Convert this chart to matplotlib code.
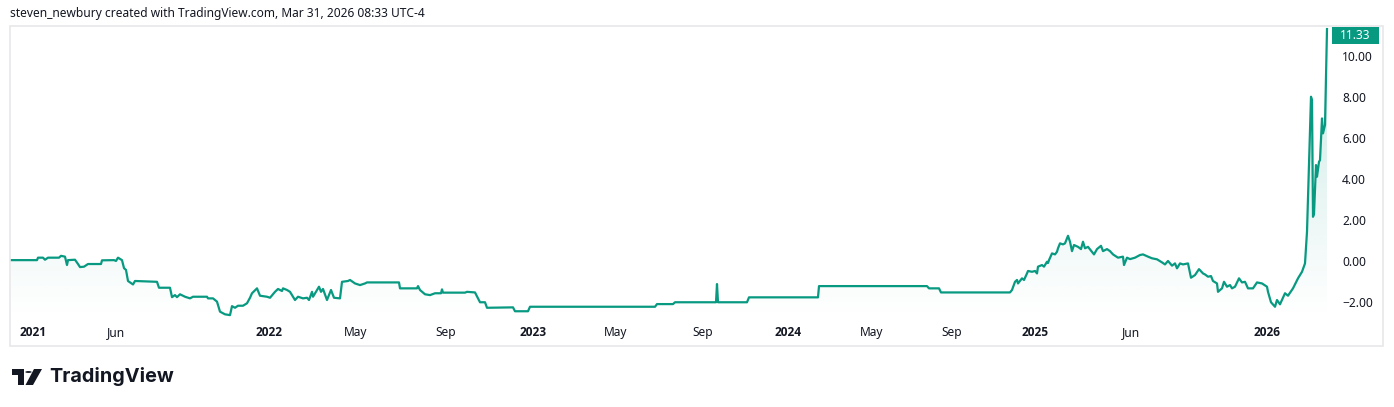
"""TradingView-style area chart, rebuilt with matplotlib."""

import matplotlib

matplotlib.use("Agg")
import matplotlib.pyplot as plt
import numpy as np
from matplotlib.patches import Circle, Polygon, Rectangle

plt.rcParams["font.family"] = ["Noto Sans", "DejaVu Sans"]

# bar index (chart's own time scale) and close values
bars = [
    1, 27, 28, 33, 35, 38, 49, 51, 55, 57, 58, 65, 68, 70, 74, 78, 91, 92, 104, 106,
    108, 112, 114, 116, 118, 121, 123, 125, 147, 149, 160, 162, 165, 167, 170, 175,
    180, 183, 197, 198, 203, 207, 210, 215, 220, 222, 225, 228, 233, 237, 240,
    242, 247, 250, 257, 260, 265, 268, 272, 273, 277, 280, 285, 288, 293, 297, 299,
    302, 303, 307, 309, 311, 313, 317, 321, 324, 330, 332, 338, 340, 345, 350, 355,
    357, 389, 390, 407, 408, 410, 415, 420, 425, 431, 432, 433, 455, 457, 465, 470,
    475, 477, 503, 505, 518, 520, 645, 647, 663, 665, 706, 707, 708, 737, 739, 808,
    809, 917, 919, 929, 931, 1000, 1002, 1005, 1007, 1008, 1012, 1014, 1017, 1018,
    1022, 1025, 1027, 1028, 1032, 1034, 1037, 1038, 1039, 1042, 1045, 1047, 1048,
    1050, 1053, 1055, 1058, 1060, 1062, 1064, 1068, 1071, 1073, 1075, 1078, 1084,
    1087, 1091, 1093, 1097, 1100, 1103, 1108, 1113, 1114, 1117, 1120, 1125, 1130,
    1133, 1138, 1142, 1147, 1152, 1155, 1158, 1162, 1165, 1167, 1170, 1173, 1178,
    1181, 1185, 1189, 1193, 1195, 1198, 1201, 1203, 1207, 1208, 1212, 1214, 1217,
    1220, 1222, 1225, 1229, 1232, 1235, 1238, 1243, 1247, 1252, 1257, 1258, 1261,
    1265, 1267, 1270, 1275, 1278, 1283, 1288, 1292, 1295, 1297, 1298, 1301, 1302,
    1303, 1304, 1306, 1307, 1309, 1310, 1312, 1313, 1315, 1317,
]
closes = [
    0.03, 0.03, 0.15, 0.15, 0.05, 0.15, 0.15, 0.24, 0.20, -0.21, 0.03, 0.05, -0.16,
    -0.31, -0.29, -0.16, -0.16, 0.02, 0.03, -0.01, 0.15, 0.03, -0.36, -0.45, -0.99,
    -1.09, -1.16, -0.99, -1.03, -1.32, -1.32, -1.78, -1.68, -1.78, -1.64, -1.76,
    -1.84, -1.76, -1.76, -1.84, -1.84, -2.00, -2.49, -2.62, -2.66, -2.22, -2.30,
    -2.20, -2.20, -2.08, -1.81,
    -1.59, -1.35, -1.71, -1.76, -1.81, -1.52, -1.38, -1.48, -1.35, -1.43, -1.52,
    -1.92, -1.76, -1.84, -1.81, -1.92, -1.52, -1.76, -1.43, -1.27, -1.52, -1.38,
    -1.92, -1.43, -1.81, -1.84, -1.03, -0.99, -0.94, -1.11, -1.19, -1.11, -1.06,
    -1.06, -1.35, -1.35, -1.24, -1.43, -1.64, -1.68, -1.59, -1.59, -1.40, -1.56,
    -1.56, -1.52, -1.55, -2.03, -2.03, -2.30, -2.28, -2.47, -2.47, -2.25, -2.25,
    -2.12, -2.12, -2.03, -2.03, -1.14, -2.03, -2.03, -1.79, -1.79, -1.24, -1.24,
    -1.35, -1.35, -1.55, -1.55, -1.43, -1.03, -0.94, -1.11, -0.86, -0.94, -0.62,
    -0.50, -0.54, -0.50, -0.62, -0.29, -0.21, -0.29, -0.05, -0.11, 0.03, 0.36, 0.31,
    0.44, 0.61, 0.85, 0.80, 0.85, 1.22, 0.93, 0.47, 0.77, 0.68, 0.57, 0.93, 0.61,
    0.68, 0.31, 0.57, 0.73, 0.47, 0.57, 0.47, 0.31, 0.15, 0.20, -0.21, 0.15, 0.08,
    0.15, 0.28, 0.31, 0.20, 0.12, 0.07, -0.08, -0.18, -0.01, -0.24, -0.13, -0.37,
    -0.13, -0.18, -0.13, -0.83, -0.70, -0.41, -0.62, -0.67, -0.78, -0.75, -0.99,
    -1.11, -1.52, -1.35, -1.03, -1.27, -1.19, -1.35, -1.27, -0.86, -1.06, -1.03,
    -1.35, -1.35, -1.06, -1.11, -1.27, -1.52, -2.03, -2.25, -1.92, -2.13, -1.59,
    -1.71, -1.35, -0.86, -0.54, -0.13, 1.42, 3.05, 8.02, 7.86, 2.15, 2.28, 4.68,
    4.11, 4.84, 4.92, 6.96, 6.23, 6.64, 11.33,
]

time_tick_bars = [23, 106, 259.5, 346, 435.5, 523, 606, 693, 778, 862, 942, 1025, 1121, 1257.5]
time_tick_labels = ["2021", "Jun", "2022", "May", "Sep", "2023", "May", "Sep",
                    "2024", "May", "Sep", "2025", "Jun", "2026"]
price_ticks = [-2, 0, 2, 4, 6, 8, 10]
last_price = "11.33"

W, H = 1394, 407
TEAL = "#089981"
INK = "#131722"


def fx(px):
    return px / W


def fy(py):
    return 1 - py / H


fig = plt.figure(figsize=(W / 100, H / 100), dpi=100)
fig.patch.set_facecolor("white")

# price pane: pixel box x 10..1330, y 26..318
ax = fig.add_axes([fx(10), fy(318), (1330 - 10) / W, (318 - 26) / H])
ymin, ymax = -2.80, 11.48
ax.set_xlim(0, 1320)
ax.set_ylim(ymin, ymax)

x = np.array(bars, dtype=float)
y = np.array(closes)

# gradient under the line
grad = np.zeros((256, 2, 4))
grad[..., 0] = 8 / 255
grad[..., 1] = 153 / 255
grad[..., 2] = 129 / 255
grad[..., 3] = np.linspace(0.22, 0.0, 256)[:, None]
img = ax.imshow(grad, extent=[0, 1320, ymin, ymax], aspect="auto", origin="upper", zorder=1)
poly = Polygon(np.column_stack([np.r_[x, x[-1], x[0]], np.r_[y, ymin, ymin]]),
               closed=True, facecolor="none", edgecolor="none")
ax.add_patch(poly)
img.set_clip_path(poly)

ax.plot(x, y, color=TEAL, linewidth=1.6, solid_joinstyle="round", zorder=3)

for spine in ax.spines.values():
    spine.set_visible(False)
ax.yaxis.tick_right()
ax.set_yticks(price_ticks, [f"{v:.2f}".replace("-", "\u2212") for v in price_ticks])
ax.set_xticks(time_tick_bars, time_tick_labels)
ax.tick_params(axis="y", length=0, pad=8.6, labelsize=8.6, labelcolor=INK)
ax.tick_params(axis="x", length=0, pad=6.0, labelsize=8.6, labelcolor=INK)
for lbl in ax.get_xticklabels():
    if lbl.get_text().isdigit():
        lbl.set_family(["Open Sans", "DejaVu Sans"])
        lbl.set_fontweight("bold")

# outer chart frame
fig.patches.append(Rectangle((fx(10), fy(346)), (1383 - 10) / W, (346 - 26) / H,
                             transform=fig.transFigure, fill=False,
                             edgecolor="#e8e8ea", linewidth=1.2))

# last price tag
fig.patches.append(Rectangle((fx(1332), fy(44)), 47 / W, 17 / H,
                             transform=fig.transFigure, facecolor=TEAL, edgecolor="none"))
fig.text(fx(1355.5), fy(35.5), last_price, color="white", fontsize=8.6, ha="center", va="center")

fig.text(fx(10), fy(13), "steven_newbury created with TradingView.com, Mar 31, 2026 08:33 UTC-4",
         fontsize=8.6, color=INK, ha="left", va="center")

# TradingView logo mark (rough) + wordmark
logo = [
    Polygon([[fx(12), fy(369)], [fx(24), fy(369)], [fx(24), fy(385)], [fx(18), fy(385)],
             [fx(18), fy(375)], [fx(12), fy(375)]], closed=True),
    Circle((fx(28.5), fy(372)), 3.2 / W),
    Polygon([[fx(34), fy(369)], [fx(42), fy(369)], [fx(33), fy(385)], [fx(25.5), fy(385)]], closed=True),
]
for p in logo:
    p.set_transform(fig.transFigure)
    p.set_facecolor("#131722")
    p.set_edgecolor("none")
    fig.patches.append(p)
fig.text(fx(49), fy(377), "TradingView", fontsize=14.3, fontweight="bold", color="#131722",
         family=["Inter", "Open Sans", "DejaVu Sans"], ha="left", va="center")

fig.savefig("out.png", dpi=100)
